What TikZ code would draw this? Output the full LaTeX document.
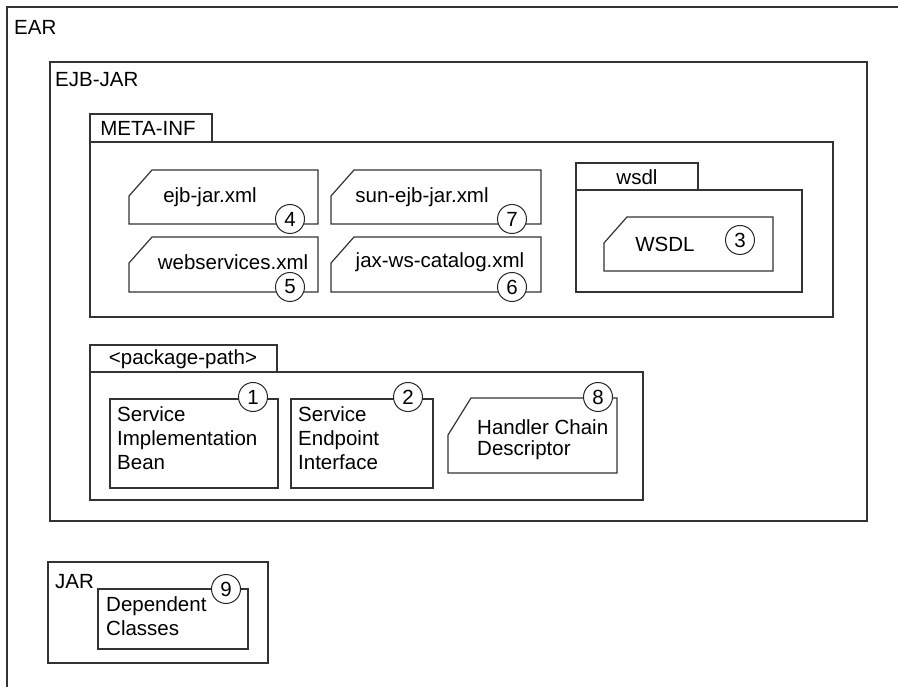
\documentclass[tikz,border=0pt]{standalone}
\usepackage{fontspec}
\setmainfont{Liberation Sans}

% Shape of a descriptor file: a box with its top left corner cut off
% #1 left, #2 top, #3 right, #4 bottom, #5 height of the cut
\newcommand{\docfile}[5]{%
  \draw[frame] ({#1+23},#2) -- (#3,#2) -- (#3,#4) -- (#1,#4) -- (#1,{#2+#5}) -- cycle;}

\tikzset{
  frame/.style={draw=black!80, line width=1.2pt},
  lbl/.style={anchor=west, inner sep=0pt},
  multi/.style={anchor=north west, inner sep=0pt, align=left},
  num/.style={circle, draw=black!85, line width=1pt, fill=white,
    minimum size=29pt, inner sep=0pt, font=\fontsize{20.5}{20.5}\selectfont}
}

\begin{document}
\begin{tikzpicture}[x=1pt, y=-1pt, font=\fontsize{20.5}{24}\selectfont]

% Fix the page to the size of the reference
\useasboundingbox (0,0) rectangle (898,687);

% --- EAR: only the top and left sides are on the page ---
\draw[frame] (905,7) -- (7,7) -- (7,695);
\node[lbl] (ear) at (14,27) {EAR};

% --- EJB-JAR ---
\draw[frame] (50,62) rectangle (867,521);
\node[lbl] (ejbjar) at (55,80) {EJB-JAR};

% --- META-INF folder ---
\draw[frame] (90,114) rectangle (212,142);
\draw[frame] (90,142) rectangle (833,317);
\node (metainf) at (148,128) {META-INF};

% 1. Deployment descriptors
\docfile{129}{170}{318}{224}{26}
\node (ejbxml) at (210,197) {ejb-jar.xml};
\node[num] (n4) at (290,219) {4};

\docfile{129}{237}{318}{292}{26}
\node (wsxml) at (233,262) {webservices.xml};
\node[num] (n5) at (290,287) {5};

\docfile{331}{170}{541}{224}{26}
\node (sunxml) at (422,197) {sun-ejb-jar.xml};
\node[num] (n7) at (512,219) {7};

\docfile{331}{237}{541}{292}{26}
\node (catxml) at (440,262) {jax-ws-catalog.xml};
\node[num] (n6) at (512,287) {6};

% 2. wsdl sub folder
\draw[frame] (576,163) rectangle (698,190);
\draw[frame] (576,190) rectangle (802,292);
\node (wsdldir) at (637,177) {wsdl};

\docfile{604}{217}{773}{271}{26}
\node (wsdl) at (665,244) {WSDL};
\node[num] (n3) at (740,240) {3};

% --- <package-path> folder ---
\draw[frame] (90,345) rectangle (277,372);
\draw[frame] (90,372) rectangle (643,500);
\node (pkg) at (183,359) {<package-path>};

\draw[frame] (110,399) rectangle (278,488);
\node[multi] (sib) at (117,406) {Service\\Implementation\\Bean};
\node[num] (n1) at (253,397) {1};

\draw[frame] (291,399) rectangle (433,488);
\node[multi] (sei) at (298,406) {Service\\Endpoint\\Interface};
\node[num] (n2) at (408,397) {2};

\docfile{448}{398}{617}{473}{37}
\node[multi, font=\fontsize{20.5}{21}\selectfont] (handler) at (477,419) {Handler Chain\\Descriptor};
\node[num] (n8) at (598,397) {8};

% --- JAR with the dependent classes ---
\draw[frame] (48,562) rectangle (268,663);
\node[lbl] (jar) at (55,582) {JAR};

\draw[frame] (98,589) rectangle (248,649);
\node[multi] (deps) at (106,596) {Dependent\\Classes};
\node[num] (n9) at (226,589) {9};

\end{tikzpicture}
\end{document}
